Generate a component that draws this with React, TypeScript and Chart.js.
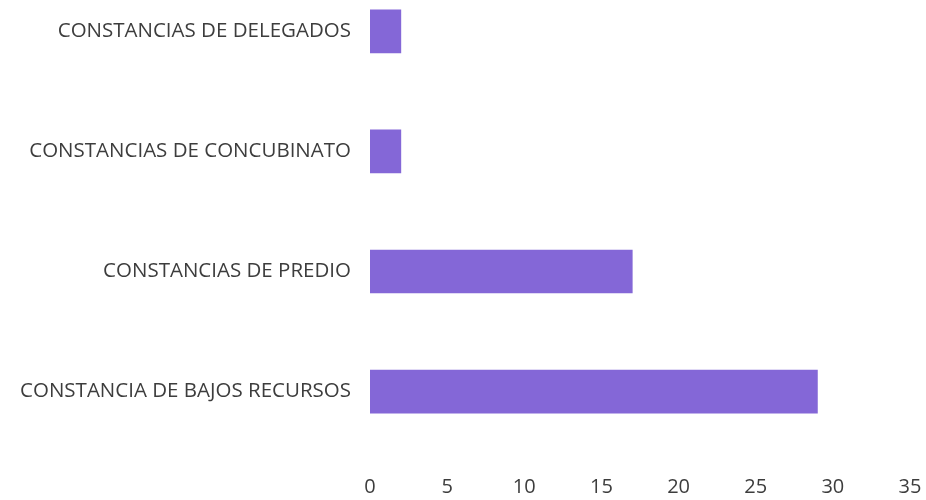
import React, { useEffect, useRef } from "react";
import { Chart, registerables } from "chart.js";

Chart.register(...registerables);

const categories = [
  "CONSTANCIAS DE DELEGADOS",
  "CONSTANCIAS DE CONCUBINATO",
  "CONSTANCIAS DE PREDIO",
  "CONSTANCIA DE BAJOS RECURSOS",
];
const values = [2, 2, 17, 29];
const xMin = 0;
const xMax = 35;
const xStep = 5;

export default function App() {
  const ref = useRef<HTMLCanvasElement | null>(null);
  useEffect(() => {
    if (!ref.current) return;
    const chart = new Chart(ref.current, {
      type: "bar",
      data: {
        labels: categories,
        datasets: [
          {
            data: values,
            backgroundColor: "#8467D7",
            borderWidth: 0,
            barThickness: 43,
          },
        ],
      },
      options: {
        indexAxis: "y",
        animation: false,
        responsive: false,
        maintainAspectRatio: false,
        layout: { padding: { top: 27.5, bottom: 3.4, left: 0, right: 0 } },
        plugins: { legend: { display: false }, tooltip: { enabled: false } },
        scales: {
          x: {
            min: xMin,
            max: xMax,
            grid: { display: false, drawTicks: false },
            border: { display: false },
            afterFit: (s: any) => {
              s.paddingRight = 16;
            },
            ticks: {
              stepSize: xStep,
              padding: 24,
              color: "#3d3d3d",
              font: { family: "Open Sans", size: 20 },
            },
          },
          y: {
            grid: { display: false, drawTicks: false },
            border: { display: false },
            afterFit: (s: any) => {
              s.width = 370;
            },
            ticks: {
              padding: 19,
              color: "#3d3d3d",
              font: { family: "Open Sans", size: 20.5 },
            },
          },
        },
      },
    });
    return () => chart.destroy();
  }, []);
  return (
    <div style={{ position: "fixed", left: 0, top: 0, width: 926, height: 500, overflow: "hidden", background: "#fff" }}>
      <canvas ref={ref} width={926} height={587} style={{ position: "absolute", left: 0, top: -60 }} />
    </div>
  );
}
